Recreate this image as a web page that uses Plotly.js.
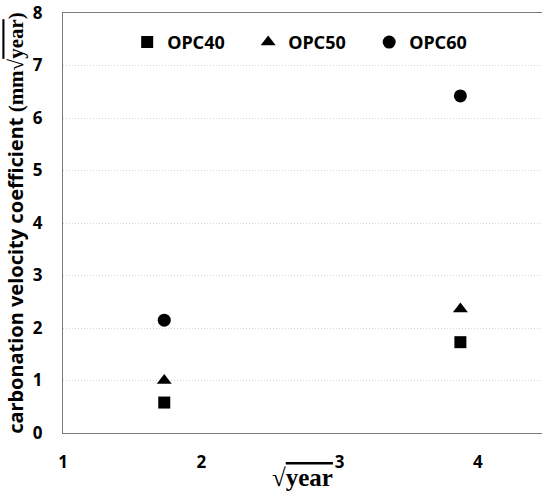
<!DOCTYPE html>
<html>
<head>
<meta charset="utf-8">
<script src="https://cdn.plot.ly/plotly-3.0.1.min.js"></script>
<style>html,body{margin:0;padding:0;background:#fff}</style>
</head>
<body>
<div id="chart" style="width:542px;height:493px"></div>
<script>
// data
const seriesNames = ["OPC40", "OPC50", "OPC60"];
const sqrtYear = [1.732, 3.873];
const opc40 = [0.58, 1.73];
const opc50 = [1.0, 2.36];
const opc60 = [2.15, 6.42];
const xTicks = [1, 2, 3, 4];
const yTicks = [0, 1, 2, 3, 4, 5, 6, 7, 8];

const symbols = ["square", "triangle-up", "circle"];
const sizes = [12, 13, 13];
const values = [opc40, opc50, opc60];

const traces = seriesNames.map((n, i) => ({
  type: "scatter", mode: "markers", name: n,
  x: sqrtYear, y: values[i],
  marker: {symbol: symbols[i], size: sizes[i], color: "#000"}
}));

const font = "'Noto Sans', 'Open Sans', sans-serif";
const layout = {
  width: 542, height: 493,
  margin: {l: 63, r: 0, t: 13, b: 60},
  paper_bgcolor: "#fff", plot_bgcolor: "#fff",
  showlegend: true,
  legend: {
    orientation: "h", x: 0.134, y: 0.93, xanchor: "left", yanchor: "middle",
    entrywidth: 76, entrywidthmode: "pixels",
    font: {family: font, size: 18, color: "#000", weight: "bold"},
    bgcolor: "rgba(0,0,0,0)"
  },
  xaxis: {
    range: [1, 4.463], tickvals: xTicks, ticktext: xTicks.map(String),
    showline: true, linecolor: "#7a7a7a", linewidth: 1, mirror: true,
    showgrid: false, zeroline: false, ticks: "",
    ticklabelstandoff: 14,
    tickfont: {family: font, size: 17, color: "#000", weight: "bold"}
  },
  yaxis: {
    range: [0, 8], tickvals: yTicks, ticktext: yTicks.map(String),
    showline: true, linecolor: "#7a7a7a", linewidth: 1, mirror: false,
    showgrid: true, gridcolor: "#d4d4d4", griddash: "1px,2px", gridwidth: 1,
    zeroline: false, ticks: "",
    ticklabelstandoff: 16,
    tickfont: {family: font, size: 17, color: "#000", weight: "bold"},
    title: {
      text: "carbonation velocity coefficient <span style=\"font-family:'Liberation Serif',serif;font-size:21px\">(mm√<span style=\"text-decoration:overline\">year</span>)</span>",
      font: {family: font, size: 20, color: "#000", weight: "bold"},
      standoff: 3
    }
  },
  annotations: [{
    xref: "paper", yref: "paper", x: 0.5, y: -0.107,
    xanchor: "center", yanchor: "middle", showarrow: false,
    text: "√<span style=\"text-decoration:overline\">year</span>",
    font: {family: "'Liberation Serif', serif", size: 25, color: "#000", weight: "bold"}
  }]
};

Plotly.newPlot("chart", traces, layout, {staticPlot: true, displayModeBar: false});
</script>
</body>
</html>
